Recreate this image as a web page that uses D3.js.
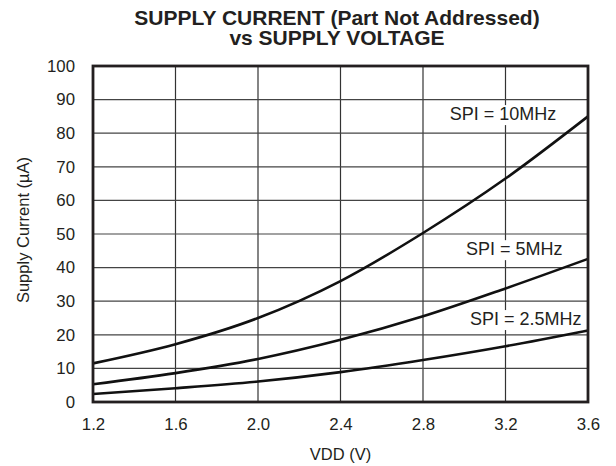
<!DOCTYPE html>
<html><head><meta charset="utf-8">
<script src="https://cdn.jsdelivr.net/npm/d3@7"></script>
<style>body{margin:0;background:#fff}svg{display:block}text{font-family:"Liberation Sans",Arial,sans-serif;fill:#231f20}</style>
</head><body><svg id="c" width="616" height="466"></svg>
<script>
const vdd = [1.2, 1.6, 2.0, 2.4, 2.8, 3.2, 3.6];
const spi10 = [11.5, 17.2, 25, 36, 50.3, 66.5, 85];
const spi5 = [5.3, 8.6, 12.8, 18.5, 25.5, 33.8, 42.6];
const spi25 = [2.4, 4.1, 6.1, 8.9, 12.5, 16.6, 21.3];
const xTicks = [1.2, 1.6, 2.0, 2.4, 2.8, 3.2, 3.6];
const yTicks = [0,10,20,30,40,50,60,70,80,90,100];
const series = [
  {name:"SPI = 10MHz", values:spi10, lx:2.93, ly:83.9},
  {name:"SPI = 5MHz", values:spi5, lx:3.008, ly:43.7},
  {name:"SPI = 2.5MHz", values:spi25, lx:3.028, ly:22.9}
];
const svg = d3.select("#c");
const m = {l:93, r:588, t:66, b:402};
const x = d3.scaleLinear().domain([1.2,3.6]).range([m.l,m.r]);
const y = d3.scaleLinear().domain([0,100]).range([m.b,m.t]);
// grid
svg.append("g").selectAll("line").data(xTicks.slice(1,-1)).join("line")
  .attr("x1",d=>x(d)).attr("x2",d=>x(d)).attr("y1",m.t).attr("y2",m.b)
  .attr("stroke","#333").attr("stroke-width",1.2);
svg.append("g").selectAll("line").data(yTicks.slice(1,-1)).join("line")
  .attr("y1",d=>y(d)).attr("y2",d=>y(d)).attr("x1",m.l).attr("x2",m.r)
  .attr("stroke","#444").attr("stroke-width",1.2);
// curves
const line = d3.line().x((d,i)=>x(vdd[i])).y(d=>y(d)).curve(d3.curveMonotoneX);
svg.append("g").selectAll("path").data(series).join("path")
  .attr("d",d=>line(d.values)).attr("fill","none").attr("stroke","#111").attr("stroke-width",2.6);
// labels with white background
const lg = svg.append("g").selectAll("g").data(series).join("g");
lg.append("rect").attr("fill","#fff");
const texts = lg.append("text").attr("x",d=>x(d.lx)).attr("y",d=>y(d.ly)).attr("font-size",18).text(d=>d.name);
texts.each(function(){
  const b=this.getBBox();
  d3.select(this.previousSibling).attr("x",b.x-2).attr("y",b.y+1).attr("width",b.width+4).attr("height",b.height);
});
// frame
svg.append("rect").attr("x",m.l).attr("y",m.t).attr("width",m.r-m.l).attr("height",m.b-m.t)
  .attr("fill","none").attr("stroke","#231f20").attr("stroke-width",2.8);
// axes
const xa = svg.append("g").attr("transform",`translate(0,${m.b})`).call(d3.axisBottom(x).tickValues(xTicks).tickFormat(d3.format(".1f")).tickSize(0).tickPadding(16));
const ya = svg.append("g").attr("transform",`translate(${m.l},0)`).call(d3.axisLeft(y).tickValues(yTicks).tickSize(0).tickPadding(18));
[xa,ya].forEach(a=>{a.select(".domain").remove();a.selectAll("text").attr("font-size",16.8).attr("font-family","Liberation Sans, Arial, sans-serif").attr("fill","#231f20");});
svg.append("text").attr("x",(m.l+m.r)/2).attr("y",460).attr("text-anchor","middle").attr("font-size",16.5).text("VDD (V)");
svg.append("text").attr("transform",`translate(29,${(m.t+m.b)/2-4}) rotate(-90)`).attr("text-anchor","middle").attr("font-size",16.5).text("Supply Current (µA)");
svg.append("text").attr("x",337).attr("y",25).attr("text-anchor","middle").attr("font-size",21).attr("font-weight","bold").text("SUPPLY CURRENT (Part Not Addressed)");
svg.append("text").attr("x",337).attr("y",45).attr("text-anchor","middle").attr("font-size",21).attr("font-weight","bold").text("vs SUPPLY VOLTAGE");
</script></body></html>
